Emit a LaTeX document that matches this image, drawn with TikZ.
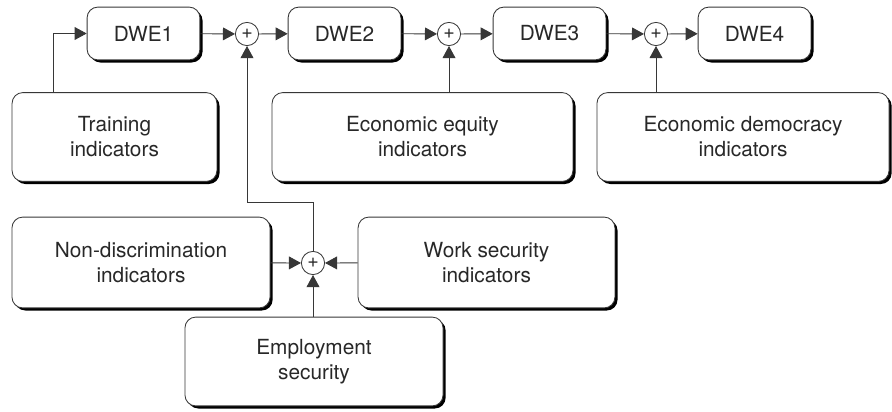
\documentclass[tikz,border=0pt]{standalone}
\usepackage{fontspec}
\setmainfont{TeX Gyre Heros}
\usepackage{xcolor}
\usetikzlibrary{shadows,arrows.meta,positioning}
\definecolor{dweline}{RGB}{55,55,55}
\definecolor{dwetext}{RGB}{40,40,40}

\begin{document}
\begin{tikzpicture}[x=0.025cm, y=-0.025cm]
    % Define styles
    \tikzset{
        box/.style={rectangle, rounded corners=0.27cm, draw=dweline, line width=0.6pt, fill=white,
            align=center, text=dwetext, inner sep=0pt,
            font=\fontsize{14.8}{17.7}\selectfont,
            drop shadow={shadow xshift=0.065cm, shadow yshift=-0.065cm, fill=black, opacity=1}},
        dwe/.style={box, minimum width=2.82cm, minimum height=1.32cm},
        ind/.style={box, minimum height=2.22cm},
        plus/.style={circle, draw=dweline, line width=0.6pt, fill=white, minimum size=0.58cm,
            inner sep=0pt, text=dwetext, font=\fontsize{14}{14}\selectfont},
        arr/.style={draw=dweline, line width=0.6pt, -{Triangle[length=0.3cm, width=0.32cm]}}
    }
    \useasboundingbox (0,0) rectangle (892,412);

    % Components
    \node[dwe] (dwe1) at (143.5,33.5) {DWE1};
    \node[dwe] (dwe2) at (344.5,33.5) {DWE2};
    \node[dwe] (dwe3) at (549.5,33.5) {DWE3};
    \node[dwe] (dwe4) at (754.5,33.5) {DWE4};
    \node[plus] (plus1) at (247,34) {+};
    \node[plus] (plus2) at (449,34) {+};
    \node[plus] (plus3) at (656,34) {+};
    \node[plus] (plus4) at (313,263) {+};

    \node[ind, minimum width=5.12cm] (training) at (114.5,137) {Training\\indicators};
    \node[ind, minimum width=7.52cm] (equity) at (422.5,137) {Economic equity\\indicators};
    \node[ind, minimum width=7.3cm] (democracy) at (743,137) {Economic democracy\\indicators};
    \node[ind, minimum width=6.45cm, minimum height=2.27cm] (nondisc) at (141,262.5) {Non-discrimination\\indicators};
    \node[ind, minimum width=6.42cm, minimum height=2.27cm] (worksec) at (486.5,262.5) {Work security\\indicators};
    \node[ind, minimum width=6.45cm] (employ) at (314,361.5) {Employment\\security};
    \coordinate (joint) at (247,202);

    % Arrows
    \draw[arr] ([xshift=1.05cm]training.north west) |- (dwe1.west);
    \draw[arr] (dwe1) -- (plus1);
    \draw[arr] (plus1) -- (dwe2);
    \draw[arr] (dwe2) -- (plus2);
    \draw[arr] (plus2) -- (dwe3);
    \draw[arr] (dwe3) -- (plus3);
    \draw[arr] (plus3) -- (dwe4);
    \draw[arr] (plus2 |- equity.north) -- (plus2);
    \draw[arr] (plus3 |- democracy.north) -- (plus3);
    \draw[arr] (plus4.north) |- (joint) -- (plus1.south);
    \draw[arr] (nondisc) -- (plus4);
    \draw[arr] (worksec) -- (plus4);
    \draw[arr] (plus4 |- employ.north) -- (plus4);
\end{tikzpicture}
\end{document}
